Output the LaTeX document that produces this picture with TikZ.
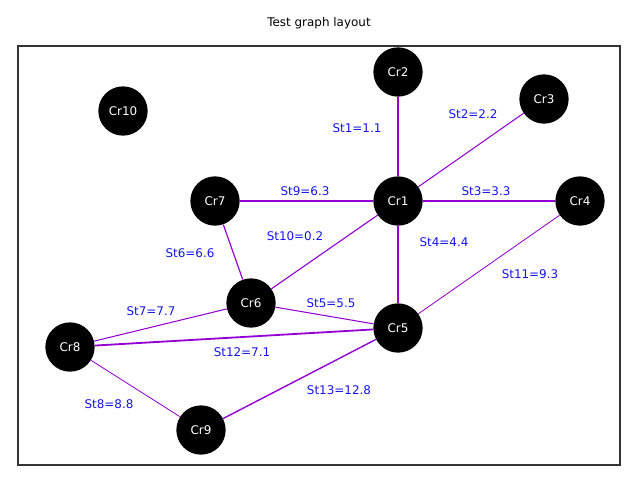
\documentclass[tikz,border=0pt]{standalone}
\usepackage{fontspec}
\setmainfont{DejaVu Sans}
\usetikzlibrary{arrows, positioning}
\definecolor{edgeviolet}{RGB}{148,0,211}
\definecolor{labelblue}{RGB}{20,20,235}

\begin{document}
\begin{tikzpicture}[x=0.72pt, y=-0.72pt, font=\fontsize{8.6}{10}\selectfont,
    cr_node/.style ={circle, fill=black, text=white,
      minimum size=35.5pt, inner sep=0pt},
    st_label/.style ={text=labelblue, inner sep=1pt},
    road/.style ={draw=edgeviolet, line width=0.75pt}]
    \useasboundingbox (0,0) rectangle (640,480);
    \node (title) at (319,23) {Test graph layout};
    \draw[line width=0.75pt, draw=black!80] (18,46) rectangle (620,465);
    \node[cr_node] (cr1) at (398,201) {Cr1};
    \node[cr_node] (cr2) at (398,72) {Cr2};
    \node[cr_node] (cr3) at (544,99) {Cr3};
    \node[cr_node] (cr4) at (580,201) {Cr4};
    \node[cr_node] (cr5) at (398,328) {Cr5};
    \node[cr_node] (cr6) at (251,303) {Cr6};
    \node[cr_node] (cr7) at (215,201) {Cr7};
    \node[cr_node] (cr8) at (70,347) {Cr8};
    \node[cr_node] (cr9) at (201,430) {Cr9};
    \node[cr_node] (cr10) at (123,111) {Cr10};
    \draw[road] (cr1) edge[line width=0.9pt] (cr2)
          (cr1) edge (cr3)
          (cr1) edge[line width=1.5pt] (cr4)
          (cr1) edge[line width=1.15pt] (cr5)
          (cr6) edge (cr5)
          (cr7) edge[line width=0.85pt] (cr6)
          (cr8) edge (cr6)
          (cr8) edge[line width=0.6pt] (cr9)
          (cr7) edge[line width=1pt] (cr1)
          (cr6) edge[line width=0.8pt] (cr1)
          (cr4) edge[line width=0.6pt] (cr5)
          (cr8) edge[line width=1.3pt] (cr5)
          (cr9) edge[line width=1pt] (cr5);
    \node[st_label] (st1) at (357,128) {St1=1.1};
    \node[st_label] (st2) at (473,114) {St2=2.2};
    \node[st_label] (st3) at (486,191) {St3=3.3};
    \node[st_label] (st4) at (444,242) {St4=4.4};
    \node[st_label] (st5) at (331,303) {St5=5.5};
    \node[st_label] (st6) at (190,253) {St6=6.6};
    \node[st_label] (st7) at (151,311) {St7=7.7};
    \node[st_label] (st8) at (109,404) {St8=8.8};
    \node[st_label] (st9) at (305,191) {St9=6.3};
    \node[st_label] (st10) at (295,236) {St10=0.2};
    \node[st_label] (st11) at (530,274) {St11=9.3};
    \node[st_label] (st12) at (242,352) {St12=7.1};
    \node[st_label] (st13) at (339,390) {St13=12.8};
\end{tikzpicture}
\end{document}
